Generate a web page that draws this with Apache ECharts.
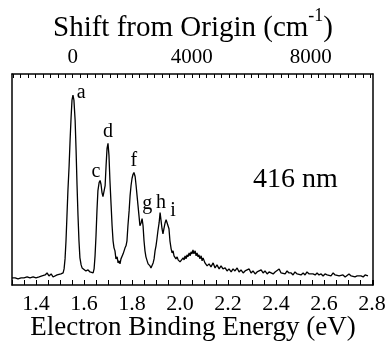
<!DOCTYPE html>
<html>
<head>
<meta charset="utf-8">
<script src="https://cdn.jsdelivr.net/npm/echarts@6/dist/echarts.min.js"></script>
<style>
html,body{margin:0;padding:0;background:#fff;}
#chart{width:386px;height:348px;}
</style>
</head>
<body>
<div id="chart"></div>
<script>
// Electron binding energy (eV)
const energies = [1.300,1.313,1.325,1.338,1.350,1.363,1.375,1.388,1.400,1.413,1.425,1.438,1.446,1.454,1.463,1.471,1.479,1.488,1.496,1.504,1.513,1.517,1.521,1.525,1.529,1.533,1.538,1.542,1.546,1.550,1.554,1.558,1.563,1.567,1.571,1.575,1.579,1.583,1.588,1.592,1.600,1.608,1.617,1.625,1.633,1.638,1.642,1.646,1.650,1.654,1.658,1.663,1.667,1.671,1.675,1.679,1.683,1.688,1.692,1.696,1.700,1.704,1.708,1.713,1.717,1.721,1.725,1.729,1.733,1.738,1.742,1.746,1.750,1.754,1.758,1.763,1.767,1.771,1.775,1.779,1.783,1.788,1.792,1.796,1.800,1.804,1.808,1.813,1.817,1.821,1.825,1.829,1.833,1.838,1.842,1.846,1.850,1.854,1.858,1.863,1.867,1.875,1.879,1.883,1.888,1.892,1.896,1.900,1.904,1.908,1.913,1.917,1.921,1.925,1.929,1.933,1.938,1.942,1.946,1.950,1.954,1.958,1.963,1.967,1.971,1.975,1.979,1.983,1.988,1.992,1.996,2.000,2.004,2.008,2.013,2.017,2.021,2.025,2.029,2.033,2.038,2.042,2.046,2.050,2.054,2.058,2.063,2.067,2.071,2.075,2.079,2.083,2.088,2.092,2.096,2.104,2.113,2.121,2.129,2.138,2.146,2.154,2.163,2.171,2.179,2.188,2.196,2.204,2.213,2.221,2.229,2.238,2.246,2.254,2.263,2.271,2.279,2.288,2.296,2.304,2.313,2.321,2.329,2.338,2.346,2.354,2.363,2.371,2.379,2.388,2.396,2.404,2.413,2.421,2.429,2.438,2.446,2.454,2.463,2.471,2.479,2.488,2.496,2.504,2.513,2.521,2.529,2.538,2.546,2.554,2.563,2.571,2.579,2.588,2.596,2.604,2.613,2.621,2.629,2.638,2.646,2.654,2.663,2.671,2.679,2.688,2.696,2.704,2.713,2.721,2.729,2.738,2.746,2.754,2.763,2.771,2.779,2.783];
// Photoelectron intensity (arb. units)
const intensities = [7,7,6,7,7,8,7,8,7,8,9,10,12,9,11,8,9,10,9,11,12,16,26,44,69,94,119,144,166,184,189,184,164,134,99,69,44,27,20,17,16,14,15,13,14,12,16,29,49,74,94,102,104,100,92,88,89,99,119,136,141,129,104,79,59,44,37,34,26,28,22,24,21,26,27,31,32,37,39,44,59,74,89,99,106,110,112,108,99,89,79,69,59,62,66,59,44,34,28,24,21,19,17,18,22,26,34,39,46,54,62,72,64,56,51,56,62,65,66,64,56,44,36,32,34,29,30,26,28,25,26,23,24,22,27,25,29,26,30,28,32,29,33,31,35,31,34,29,32,28,30,26,29,24,27,22,19,21,18,22,17,20,16,19,16,17,14,16,13,16,14,17,13,15,12,14,13,16,12,14,11,13,12,15,12,14,11,13,14,11,13,12,16,12,13,11,14,12,12,10,13,11,12,10,12,10,13,11,12,11,10,12,10,11,9,11,10,11,9,12,10,10,9,8,10,8,9,11,9,10,8,9,10,9,8,10,9,9];

// Peak letters and where they are written (eV, intensity)
const peakNames = ['a','c','d','f','g','h','i'];
const peakLabelEnergies = [1.588,1.650,1.700,1.808,1.863,1.921,1.971];
const peakLabelHeights = [191,113,153,124,81,82,74];

// Axis tick labels and titles
const bottomTickLabels = [1.4,1.6,1.8,2.0,2.2,2.4,2.6,2.8];
const topTickLabels = [0,4000,8000];
const bottomTitle = 'Electron Binding Energy (eV)';
const topTitle = '{t|Shift from Origin (cm}{s|-1}{t|)}';
const wavelengthLabel = '416 nm';

const originEnergy = 1.553;      // eV of peak a (0 cm-1)
const eVtoCm = 8065.54;
const eMin = 1.3, eMax = 2.804;
const cmMin = (eMin - originEnergy) * eVtoCm;
const cmMax = (eMax - originEnergy) * eVtoCm;

const topMinor = [];
for (let v = -2000; v <= 10000; v += 250) topMinor.push(v);

const FONT = "'Liberation Serif','Times New Roman',serif";
const black = '#000';

const chart = echarts.init(document.getElementById('chart'));
chart.setOption({
  animation: false,
  grid: {left: 12, right: 13, top: 74, bottom: 63, outerBoundsMode: 'none', show: false},
  xAxis: [
    {
      type: 'value', position: 'bottom', min: eMin, max: eMax, interval: 0.05,
      axisLine: {show: true, onZero: false, lineStyle: {color: black, width: 1.5}},
      axisTick: {show: true, inside: true, length: 5, lineStyle: {color: black, width: 1}},
      axisLabel: {
        show: true,
        formatter: v => (bottomTickLabels.some(t => Math.abs(t - v) < 1e-6) ? Number(v).toFixed(1) : ''),
        fontFamily: FONT, fontSize: 22, color: black, margin: 8
      },
      splitLine: {show: false}
    },
    {
      type: 'value', position: 'top', min: cmMin, max: cmMax,
      axisLine: {show: true, onZero: false, lineStyle: {color: black, width: 1.5}},
      axisTick: {show: true, inside: true, length: 4, customValues: topMinor, lineStyle: {color: black, width: 1}},
      axisLabel: {show: true, customValues: topTickLabels, formatter: v => String(Math.round(v)),
                  fontFamily: FONT, fontSize: 21, color: black, margin: 6},
      splitLine: {show: false}
    }
  ],
  yAxis: [
    {
      type: 'value', position: 'left', min: 0, max: 210,
      axisLine: {show: true, onZero: false, lineStyle: {color: black, width: 1.5}},
      axisTick: {show: false}, axisLabel: {show: false}, splitLine: {show: false}
    },
    {
      type: 'value', position: 'right', min: 0, max: 210,
      axisLine: {show: true, onZero: false, lineStyle: {color: black, width: 1.5}},
      axisTick: {show: false}, axisLabel: {show: false}, splitLine: {show: false}
    }
  ],
  series: [
    {
      type: 'line', xAxisIndex: 0, yAxisIndex: 0,
      data: energies.map((e, i) => [e, intensities[i]]),
      showSymbol: false,
      lineStyle: {color: black, width: 1.3}
    }
  ]
});

// Text placed through the chart's own scales
const graphics = [
  {type: 'text', left: 'center', top: 7,
   style: {text: topTitle, rich: {
     t: {fontFamily: FONT, fontSize: 29, fill: black, lineHeight: 36, verticalAlign: 'bottom'},
     s: {fontFamily: FONT, fontSize: 18, fill: black, lineHeight: 18, verticalAlign: 'top'}
   }}},
  {type: 'text', left: 'center', top: 314,
   style: {text: bottomTitle, font: "27px 'Liberation Serif','Times New Roman',serif", fill: black}},
  {type: 'text', left: 253, top: 166,
   style: {text: wavelengthLabel, font: "28px 'Liberation Serif','Times New Roman',serif", fill: black}}
];
peakNames.forEach((n, i) => {
  const p = chart.convertToPixel({xAxisIndex: 0, yAxisIndex: 0}, [peakLabelEnergies[i], peakLabelHeights[i]]);
  if (p) {
    graphics.push({type: 'text', x: p[0], y: p[1],
      style: {text: n, font: "20px 'Liberation Serif','Times New Roman',serif", fill: black,
              align: 'center', verticalAlign: 'middle', textAlign: 'center', textVerticalAlign: 'middle'}});
  }
});
chart.setOption({graphic: graphics});
</script>
</body>
</html>
